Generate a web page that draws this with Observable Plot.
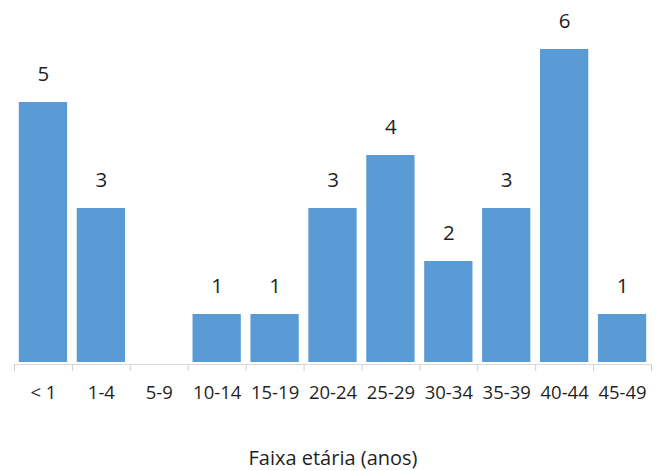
<!DOCTYPE html>
<html><head><meta charset="utf-8">
<script src="https://cdn.jsdelivr.net/npm/d3@7"></script>
<script src="https://cdn.jsdelivr.net/npm/@observablehq/plot@0.6"></script>
<style>html,body{margin:0;padding:0;background:#fff;overflow:hidden}</style>
</head><body><div id="chart"></div>
<script>
const categories = ["< 1","1-4","5-9","10-14","15-19","20-24","25-29","30-34","35-39","40-44","45-49"];
const counts = [5,3,0,1,1,3,4,2,3,6,1];
const xTitle = "Faixa etária (anos)";

const data = categories.map((c, i) => ({faixa: c, n: counts[i]}));
const W = 659, H = 471, mT = 49, mB = 104;
const axisLeft = 14, axisRight = 651;
const n = categories.length;
const step = (axisRight - axisLeft) / n;
const pad = 0.166;
const r0 = axisLeft + pad * step / 2 - pad * step;
const r1 = r0 + step * (n + pad);
const ink = "#1f1f1f";

const chart = Plot.plot({
  width: W, height: H,
  marginLeft: axisLeft, marginRight: W - axisRight, marginTop: mT, marginBottom: mB,
  style: {fontFamily: "'Open Sans', sans-serif", color: ink, background: "#fff"},
  x: {domain: categories, padding: pad, range: [r0, r1], round: false, axis: null},
  y: {domain: [0, 6], axis: null},
  marks: [
    Plot.barY(data, {x: "faixa", y: "n", fill: "#5B9BD5", insetBottom: 5}),
    Plot.ruleY([0], {stroke: "#d9d9d9", strokeWidth: 1, dy: -3}),
    Plot.ruleX(categories, {x: d => d, dx: -step / 2, y1: 0, y2: 0, insetTop: -3, insetBottom: -4, stroke: "#d0d0d0"}),
    Plot.ruleX(categories.slice(-1), {x: d => d, dx: step / 2, y1: 0, y2: 0, insetTop: -3, insetBottom: -4, stroke: "#d0d0d0"}),
    Plot.text(data.filter(d => d.n > 0), {x: "faixa", y: "n", text: d => String(d.n), dy: -28.5, fontSize: 20.5, fill: ink}),
    Plot.axisX({tickSize: 0, tickPadding: 18, fontSize: 18.5, label: null, fill: ink}),
    Plot.text([xTitle], {frameAnchor: "bottom", lineAnchor: "middle", dy: 91, fontSize: 20, fill: ink}),
  ]
});
document.getElementById("chart").appendChild(chart);
</script>
</body></html>
